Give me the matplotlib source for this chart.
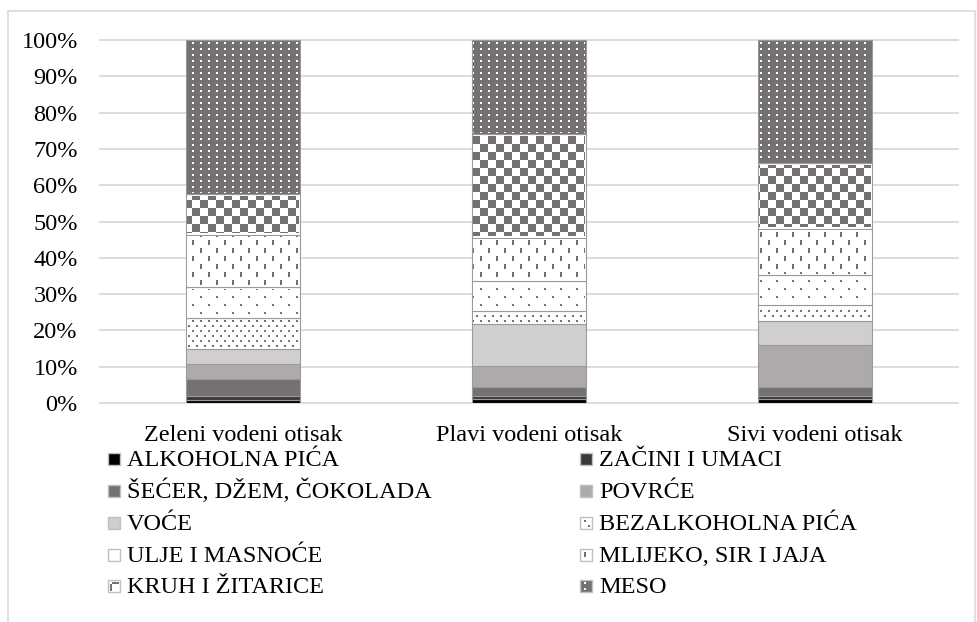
import numpy as np
import matplotlib
matplotlib.use("Agg")
import matplotlib.pyplot as plt
from matplotlib.patches import Rectangle

plt.rcParams['font.family'] = ['Liberation Serif', 'DejaVu Serif']

# data (share of each food group, %)
categories = ['Zeleni vodeni otisak', 'Plavi vodeni otisak', 'Sivi vodeni otisak']
groups = ['ALKOHOLNA PIĆA', 'ZAČINI I UMACI', 'ŠEĆER, DŽEM, ČOKOLADA', 'POVRĆE', 'VOĆE',
          'BEZALKOHOLNA PIĆA', 'ULJE I MASNOĆE', 'MLIJEKO, SIR I JAJA', 'KRUH I ŽITARICE', 'MESO']
alkoholna = [0.8, 1.0, 1.0]
zacini = [1.0, 1.0, 1.0]
secer = [4.8, 2.5, 2.3]
povrce = [4.1, 5.7, 11.6]
voce = [4.1, 11.5, 6.6]
bezalkoholna = [8.6, 3.6, 4.4]
ulje = [8.5, 8.2, 8.3]
mlijeko = [14.5, 12.0, 12.8]
kruh = [11.1, 28.5, 18.0]
meso = [42.5, 26.0, 34.0]

series = [alkoholna, zacini, secer, povrce, voce, bezalkoholna, ulje, mlijeko, kruh, meso]
colors = ['#000000', '#3b3838', '#767171', '#aeaaaa', '#d0cece',
          '#ffffff', '#ffffff', '#ffffff', '#ffffff', '#767171']
patterns = [None, None, None, None, None, 'dense', 'sparse', 'dash', 'checker', 'meso']

W, H = 978, 622
FS = 17.5
GRAY = np.array([0x76, 0x71, 0x71]) / 255.0
WHITE = np.ones(3)


def texture(kind, left, top, w, h):
    px = np.arange(left, left + w)[None, :]
    py = np.arange(top, top + h)[:, None]
    if kind == 'checker':
        mask = ((px // 8) + (py // 8)) % 2 == 0
        bg, fg = WHITE, GRAY
    elif kind == 'meso':
        mask = (px % 8 < 2) & (py % 6 < 2)
        bg, fg = GRAY, WHITE
    elif kind == 'dash':
        mask = (py % 8 < 5) & ((px + 8 * ((py // 8) % 2)) % 16 < 2)
        bg, fg = WHITE, GRAY
    elif kind == 'sparse':
        mask = (py % 8 < 2) & ((px + 8 * ((py // 8) % 2)) % 16 < 2)
        bg, fg = WHITE, GRAY
    else:  # dense dots
        mask = (py % 5 < 2) & ((px + 4 * ((py // 5) % 2)) % 8 < 2)
        bg, fg = WHITE, GRAY
    img = np.where(mask[..., None], fg, bg)
    return img


def put_texture(fig, kind, bb):
    left = int(np.ceil(bb.x0)) + 1
    right = int(np.floor(bb.x1)) - 1
    top = int(np.ceil(H - bb.y1)) + 1
    bottom = int(np.floor(H - bb.y0)) - 1
    w, h = right - left, bottom - top
    if w < 1 or h < 1:
        return
    img = texture(kind, left, top, w, h)
    fig.figimage(img, xo=left, yo=H - top - h, origin='upper', zorder=2)


fig = plt.figure(figsize=(W / 100, H / 100), dpi=100)
ax = fig.add_axes([100 / W, 1 - 403 / H, 858 / W, 363 / H])

x = np.arange(len(categories))
totals = np.sum(series, axis=0)
bottom = np.zeros(len(categories))
bar_groups = []
for vals, col in zip(series, colors):
    v = np.array(vals) / totals * 100
    bars = ax.bar(x, v, 0.4, bottom=bottom, color=col, edgecolor='#9a9a9a',
                  linewidth=0.8, zorder=3)
    bar_groups.append(bars)
    bottom += v

ax.set_xlim(-0.5, 2.5)
ax.set_ylim(0, 100)
ax.set_yticks(np.arange(0, 101, 10))
ax.set_yticklabels([f'{t}%' for t in range(0, 101, 10)])
ax.set_xticks(x)
ax.set_xticklabels(categories)
ax.tick_params(axis='both', length=0, labelsize=FS, colors='#000000')
ax.tick_params(axis='y', pad=16)
ax.tick_params(axis='x', pad=16)
ax.yaxis.grid(True, color='#d9d9d9', linewidth=1.3, zorder=0)
for gl in ax.get_ygridlines():
    gl.set_clip_on(False)
for s in ax.spines.values():
    s.set_visible(False)
ax.set_axisbelow(True)

# outer chart border
fig.patches.append(Rectangle((8 / W, -0.02), 967 / W, 1 - 11 / H + 0.02,
                             transform=fig.transFigure, fill=False,
                             edgecolor='#d9d9d9', linewidth=1.2))

fig.canvas.draw()
renderer = fig.canvas.get_renderer()
for bars, kind in zip(bar_groups, patterns):
    if kind is None:
        continue
    for b in bars:
        put_texture(fig, kind, b.get_window_extent(renderer))

# legend, two columns, row-wise
row_y = [458, 490, 522, 554, 585]
col_x = [108, 580]
for i, (label, col, kind) in enumerate(zip(groups, colors, patterns)):
    cx = col_x[i % 2]
    cy = row_y[i // 2]
    size = 12
    r = Rectangle((cx / W, 1 - (cy + 1 + size / 2) / H), size / W, size / H,
                  transform=fig.transFigure, facecolor=col, edgecolor='#bfbfbf',
                  linewidth=1.0)
    fig.patches.append(r)
    if kind is not None:
        left = cx + 2
        top = int(cy + 1 - size / 2) + 2
        img = texture(kind, left, top, size - 3, size - 3)
        fig.figimage(img, xo=left, yo=H - top - (size - 3), origin='upper', zorder=2)
    fig.text((cx + 19) / W, 1 - (cy + 8) / H, label, fontsize=FS,
             va='baseline', ha='left', color='#000000')

fig.savefig('out.png', dpi=100)
